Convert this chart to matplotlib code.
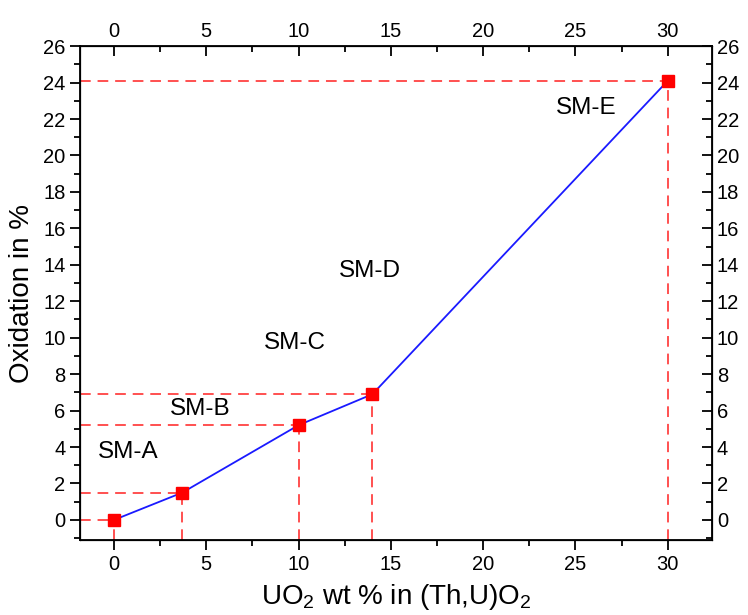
import matplotlib
matplotlib.use("Agg")
import matplotlib.pyplot as plt
from matplotlib.ticker import MultipleLocator

plt.rcParams['font.family'] = ['Liberation Sans', 'DejaVu Sans']
plt.rcParams['mathtext.fontset'] = 'custom'
plt.rcParams['mathtext.rm'] = 'Liberation Sans'
plt.rcParams['mathtext.it'] = 'Liberation Sans:italic'

uo2_wt = [0, 3.7, 10, 14, 30]
oxidation = [0, 1.5, 5.2, 6.9, 24.1]
sample_labels = ["SM-A", "SM-B", "SM-C", "SM-D", "SM-E"]
label_x = [0.75, 4.65, 9.8, 13.85, 25.6]
label_y = [3.7, 6.1, 9.7, 13.65, 22.6]
x_ticks = [0, 5, 10, 15, 20, 25, 30]
y_ticks = list(range(0, 27, 2))

fig = plt.figure(figsize=(7.48, 6.15), dpi=100)
ax = fig.add_axes([0.107, 0.122, 0.845, 0.803])

xmin, xmax = -1.84, 32.4
ymin, ymax = -1.1, 26

ax.plot(uo2_wt, oxidation, color='#1a1aff', lw=1.3, zorder=3)
ax.plot(uo2_wt, oxidation, ls='none', marker='s', ms=8.5, color='#ff0000', zorder=4)

for x, y in zip(uo2_wt, oxidation):
    ax.plot([xmin, x], [y, y], color='#ff2020', lw=1.1, ls=(0, (7, 4.5)), zorder=2)
    ax.plot([x, x], [ymin, y], color='#ff2020', lw=1.1, ls=(0, (7, 4.5)), zorder=2)

for t, lx, ly in zip(sample_labels, label_x, label_y):
    ax.text(lx, ly, t, fontsize=17.5, ha='center', va='center')

ax.set_xlim(xmin, xmax)
ax.set_ylim(ymin, ymax)
ax.set_xticks(x_ticks)
ax.set_yticks(y_ticks)
ax.xaxis.set_minor_locator(MultipleLocator(2.5))
ax.yaxis.set_minor_locator(MultipleLocator(1))
ax.tick_params(axis='both', which='major', labelsize=14.5, length=7, width=1.3, direction='out')
ax.tick_params(axis='both', which='minor', length=4, width=1.3, direction='out')
for s in ax.spines.values():
    s.set_linewidth(1.3)

ax.set_xlabel("UO$_2$ wt % in (Th,U)O$_2$", fontsize=20, labelpad=6)
ax.set_ylabel("Oxidation in %", fontsize=20, labelpad=6)

axt = ax.twiny()
axt.set_xlim(xmin, xmax)
axt.set_xticks(x_ticks)
axt.xaxis.set_minor_locator(MultipleLocator(2.5))
axt.tick_params(axis='x', which='major', labelsize=14.5, length=7, width=1.3, direction='in')
axt.tick_params(axis='x', which='minor', length=4, width=1.3, direction='in')

axr = ax.twinx()
axr.set_ylim(ymin, ymax)
axr.set_yticks(y_ticks)
axr.yaxis.set_minor_locator(MultipleLocator(1))
axr.tick_params(axis='y', which='major', labelsize=14.5, length=7, width=1.3, direction='in')
axr.tick_params(axis='y', which='minor', length=4, width=1.3, direction='in')

fig.savefig("out.png", dpi=100)
